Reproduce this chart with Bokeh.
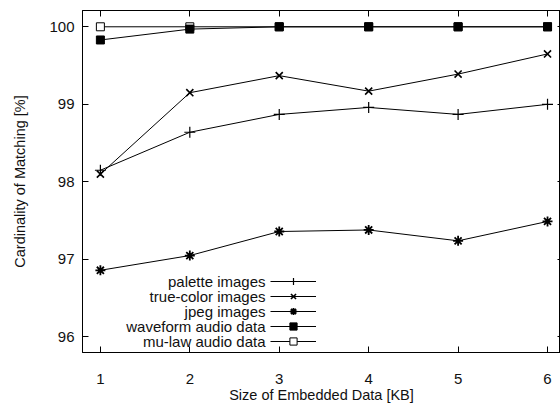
from bokeh.plotting import figure
from bokeh.models import Range1d, FixedTicker, LinearAxis, Legend, LegendItem, Label
from bokeh.embed import file_html
from bokeh.resources import INLINE

sizes_kb = [1, 2, 3, 4, 5, 6]
palette_images = [98.15, 98.64, 98.87, 98.96, 98.87, 99.00]
truecolor_images = [98.10, 99.15, 99.37, 99.17, 99.39, 99.65]
jpeg_images = [96.86, 97.05, 97.36, 97.38, 97.24, 97.49]
waveform_audio = [99.83, 99.97, 100.0, 100.0, 100.0, 100.0]
mulaw_audio = [100.0, 100.0, 100.0, 100.0, 100.0, 100.0]
y_ticks = [96, 97, 98, 99, 100]

FONT = "Liberation Sans"

p = figure(width=560, height=405, output_backend="svg", toolbar_location=None,
           x_range=Range1d(0.8, 6.145), y_range=Range1d(95.8, 100.21),
           min_border_left=82, min_border_top=10, min_border_right=0, min_border_bottom=0)
p.xgrid.visible = False
p.ygrid.visible = False
p.outline_line_color = "black"
p.outline_line_width = 1
p.background_fill_color = "white"
p.border_fill_color = "white"

p.xaxis.ticker = FixedTicker(ticks=sizes_kb)
p.yaxis.ticker = FixedTicker(ticks=y_ticks)
for ax in (p.xaxis[0], p.yaxis[0]):
    ax.major_tick_in = 6
    ax.major_tick_out = 0
    ax.minor_tick_in = 0
    ax.minor_tick_out = 0
    ax.axis_line_color = "black"
    ax.major_tick_line_color = "black"
    ax.major_label_text_font = FONT
    ax.major_label_text_font_size = "15px"
    ax.major_label_text_color = "#111111"
    ax.axis_label_text_font = FONT
    ax.axis_label_text_font_size = "14.5px"
    ax.axis_label_text_font_style = "normal"
    ax.axis_label_text_color = "#111111"
p.xaxis.axis_label = "Size of Embedded Data [KB]"
p.yaxis.axis_label = "Cardinality of Matching [%]"
p.xaxis.major_label_standoff = 21
p.xaxis.axis_label_standoff = 0
p.yaxis.major_label_standoff = 8
p.yaxis.axis_label_standoff = 18

top_ax = LinearAxis(ticker=FixedTicker(ticks=sizes_kb), major_tick_in=6, major_tick_out=0,
                    minor_tick_in=0, minor_tick_out=0, major_label_text_font_size="1px",
                    major_label_text_color=None, major_label_standoff=0, axis_line_color="black")
p.add_layout(top_ax, "above")
right_ax = LinearAxis(ticker=FixedTicker(ticks=y_ticks), major_tick_in=3, major_tick_out=0,
                      minor_tick_in=0, minor_tick_out=0, major_label_text_font_size="1px",
                      major_label_text_color=None, major_label_standoff=0, axis_line_color=None)
p.add_layout(right_ax, "right")

series = [
    ("palette images", palette_images, "cross", 11, "black", 1.2),
    ("true-color images", truecolor_images, "x", 10, "black", 1.6),
    ("jpeg images", jpeg_images, "asterisk", 10, "black", 1.8),
    ("waveform audio data", waveform_audio, "square", 8, "black", 1),
    ("mu-law audio data", mulaw_audio, "square", 8, "white", 1),
]

renderers = {}
for name, ys, marker, size, fill, lw in series:
    renderers[name] = [p.line(sizes_kb, ys, line_color="black", line_width=1)]
# markers: mu-law first so that the filled waveform squares sit on top
for name, ys, marker, size, fill, lw in [series[4], series[0], series[1], series[2], series[3]]:
    renderers[name].append(p.scatter(sizes_kb, ys, marker=marker, size=size, line_color="black",
                                     line_width=lw, fill_color=fill))

# gnuplot-style key: right-aligned text, sample on the right
ROW0 = 71   # screen px above frame bottom of the first key row centre
STEP = 15
GLYPH_H = 18
for i, s in enumerate(series):
    name = s[0]
    cy = ROW0 - STEP * i
    lg = Legend(items=[LegendItem(label="", renderers=renderers[name])],
                location=(188, cy - GLYPH_H / 2), glyph_width=46, glyph_height=GLYPH_H,
                spacing=0, padding=0, margin=0, label_width=0, label_standoff=0,
                label_height=GLYPH_H, label_text_font_size="1px", label_text_color=None,
                border_line_color=None, background_fill_alpha=0)
    p.add_layout(lg, "center")
    p.add_layout(Label(x=183, y=cy, x_units="screen", y_units="screen",
                       text=name, text_align="right", text_baseline="middle",
                       text_font=FONT, text_font_size="15px", text_color="#111111"))

open("out.html", "w").write(file_html(p, INLINE))
